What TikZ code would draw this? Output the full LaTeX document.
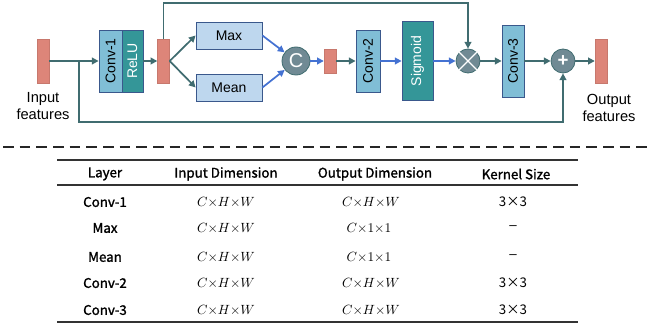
\documentclass[tikz,border=0pt]{standalone}
\usepackage{fontspec}
\setmainfont{Liberation Sans}
\newfontfamily\tabfont{Noto Sans CJK SC}
\newfontfamily\tabhead[FakeBold=1.5]{Noto Sans CJK SC}
\usepackage{tikz}
\usetikzlibrary{positioning,arrows.meta}

\definecolor{barred}{RGB}{221,133,121}
\definecolor{convblue}{RGB}{128,190,214}
\definecolor{actteal}{RGB}{52,150,152}
\definecolor{poolblue}{RGB}{190,215,238}
\definecolor{opgray}{RGB}{112,138,148}
\definecolor{linegreen}{RGB}{64,108,112}
\definecolor{arrowblue}{RGB}{68,114,210}
\definecolor{edgeblue}{RGB}{58,88,140}

\begin{document}
\begin{tikzpicture}[x=0.75pt,y=-0.75pt,
  feat/.style={rectangle,fill=barred,draw=barred!90!black,line width=0.3pt,minimum width=9pt,minimum height=33pt,inner sep=0pt},
  conv/.style={rectangle,draw=edgeblue,line width=0.6pt,fill=convblue,rotate=90,inner sep=0pt,font=\fontsize{10.5}{12}\selectfont},
  act/.style={conv,fill=actteal,text=white},
  pool/.style={rectangle,draw=edgeblue,line width=0.6pt,fill=poolblue,minimum width=49.5pt,minimum height=20.25pt,inner sep=0pt,font=\fontsize{10.5}{12}\selectfont},
  op/.style={circle,draw=linegreen,line width=0.6pt,fill=opgray,text=white,minimum size=18pt,inner sep=0pt},
  flow/.style={draw=linegreen,line width=1.3pt,-{Triangle[length=5pt,width=5pt]}},
  blueflow/.style={flow,draw=arrowblue},
  caption/.style={align=center,font=\fontsize{11}{12.5}\selectfont},
  tabtext/.style={font=\tabfont\fontsize{10}{12}\selectfont},
  tabbold/.style={font=\tabhead\fontsize{10}{12}\selectfont},
  tabmath/.style={font=\fontsize{10}{12}\selectfont}]
\useasboundingbox (0,0) rectangle (652,324);

% upper part: the block
\node[feat] (in) at (43,61) {};
\node[caption] (inlabel) at (43,106) {Input\\features};
\node[conv,minimum width=46.5pt,minimum height=17.25pt] (conv1) at (110.5,61) {Conv-1};
\node[act,minimum width=46.5pt,minimum height=15.75pt] (relu) at (132.5,61) {ReLU};
\node[feat] (mid) at (163.5,61) {};
\node[pool] (max) at (229,35.5) {Max};
\node[pool] (mean) at (229,87.5) {Mean};
\node[op,minimum size=21pt,font=\fontsize{15}{15}\selectfont] (cat) at (296,61) {C};
\node[feat,minimum height=18pt] (vec) at (330,61) {};
\node[conv,minimum width=46.5pt,minimum height=18pt] (conv2) at (368,61) {Conv-2};
\node[act,minimum width=59.25pt,minimum height=23.25pt] (sig) at (417.5,61) {Sigmoid};
\node[op] (mul) at (468,61) {};
\draw[white,line width=1pt] (mul.45) -- (mul.225) (mul.135) -- (mul.-45);
\node[conv,minimum width=54pt,minimum height=16.5pt] (conv3) at (513,61) {Conv-3};
\node[op,font=\fontsize{14}{14}\bfseries] (add) at (563,61) {+};
\node[feat] (out) at (601,61) {};
\node[caption] (outlabel) at (609,108) {Output\\features};

\coordinate (split) at (79,61);
\coordinate (skiptop) at (468,3);
\coordinate (skipbot) at (563,122);

\draw[flow] (in) -- (conv1);
\draw[flow] (relu) -- (mid);
\draw[flow] (mid.east) -- (max.west);
\draw[flow] (mid.east) -- (mean.west);
\draw[blueflow] (max.east) -- (cat);
\draw[blueflow] (mean.east) -- (cat);
\draw[blueflow] (cat) -- (vec);
\draw[flow] (vec) -- (conv2);
\draw[blueflow] (conv2) -- (sig);
\draw[blueflow] (sig) -- (mul);
\draw[flow] (mul) -- (conv3);
\draw[flow] (conv3) -- (add);
\draw[flow] (add) -- (out);
\draw[flow] (mid.north) |- (skiptop) -- (mul.north);
\draw[flow] (split) |- (skipbot) -- (add.south);

\draw[line width=1.2pt,dash pattern=on 8pt off 4.5pt,black!85] (3,147) -- (648,147);

% lower part: the table
\draw[line width=1.3pt,black!80] (57,160) -- (578,160);
\draw[line width=0.8pt,black!80] (57,185) -- (578,185);
\draw[line width=1.3pt,black!80] (57,322) -- (578,322);

\node[tabbold] (hlayer) at (105,174) {Layer};
\node[tabbold] (hin) at (226,174) {Input Dimension};
\node[tabbold] (hout) at (375,174) {Output Dimension};
\node[tabbold] (hkernel) at (516,174) {Kernel Size};

\node[tabbold] (l1) at (105,202) {Conv-1};
\node[tabmath] (i1) at (226,202) {$C{\times}H{\times}W$};
\node[tabmath] (o1) at (371,202) {$C{\times}H{\times}W$};
\node[tabtext] (k1) at (513,202) {3×3};

\node[tabbold] (l2) at (105,228) {Max};
\node[tabmath] (i2) at (226,228) {$C{\times}H{\times}W$};
\node[tabmath] (o2) at (369,228) {$C{\times}1{\times}1$};
\node[tabtext] (k2) at (513,228) {\rmfamily –};

\node[tabbold] (l3) at (105,257) {Mean};
\node[tabmath] (i3) at (226,257) {$C{\times}H{\times}W$};
\node[tabmath] (o3) at (369,257) {$C{\times}1{\times}1$};
\node[tabtext] (k3) at (513,257) {\rmfamily –};

\node[tabbold] (l4) at (105,283) {Conv-2};
\node[tabmath] (i4) at (226,283) {$C{\times}H{\times}W$};
\node[tabmath] (o4) at (371,283) {$C{\times}H{\times}W$};
\node[tabtext] (k4) at (513,283) {3×3};

\node[tabbold] (l5) at (105,310) {Conv-3};
\node[tabmath] (i5) at (226,310) {$C{\times}H{\times}W$};
\node[tabmath] (o5) at (371,310) {$C{\times}H{\times}W$};
\node[tabtext] (k5) at (513,310) {3×3};
\end{tikzpicture}
\end{document}
